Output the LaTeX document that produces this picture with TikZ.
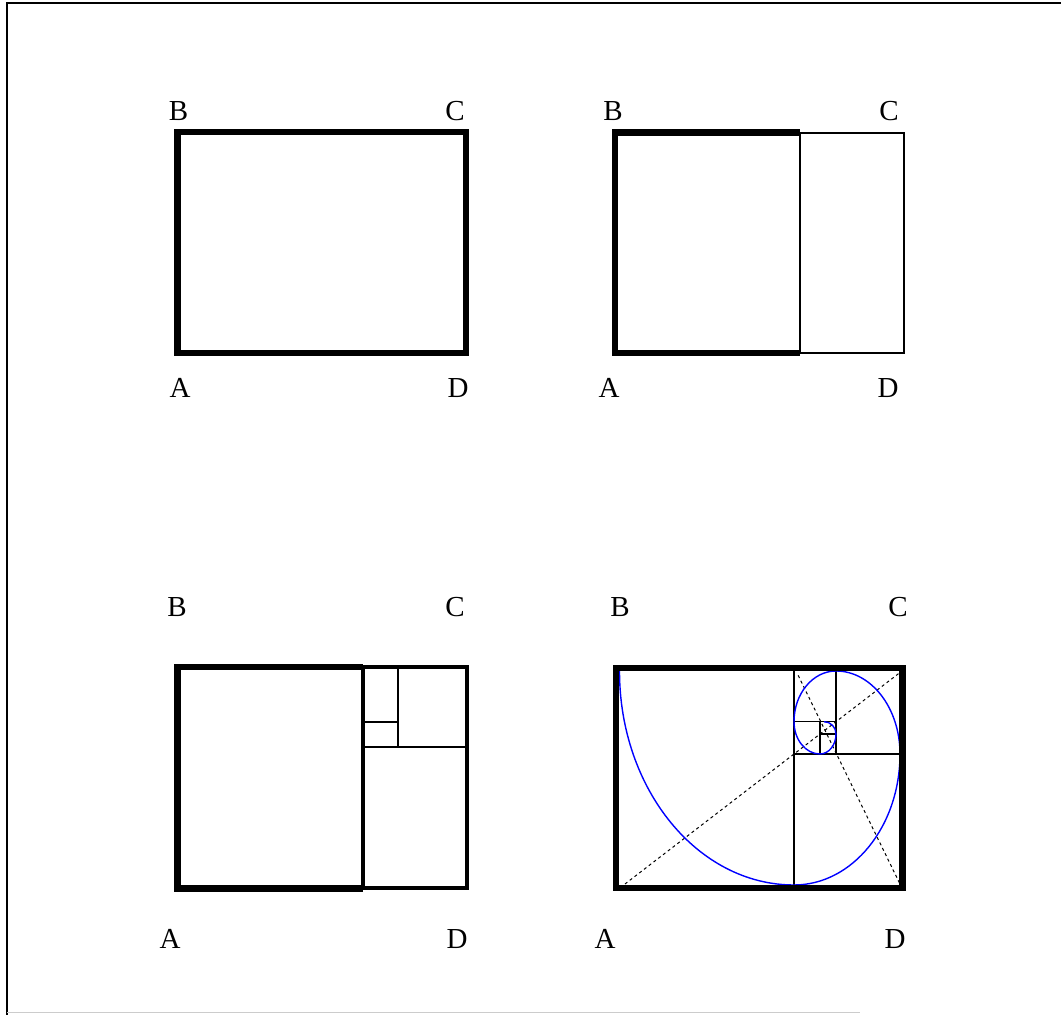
\documentclass[tikz,border=0pt]{standalone}
\usepackage{fontspec}
\setmainfont{Liberation Serif}

\begin{document}
\begin{tikzpicture}[x=1pt, y=1pt,
    heavy/.style={line width=6.5pt},
    medium/.style={line width=4pt},
    thin/.style={line width=1.8pt},
    fine/.style={line width=1.1pt},
    diag/.style={line width=1pt, dash pattern=on 3pt off 3pt},
    spiral/.style={blue, line width=1.4pt},
    lbl/.style={font=\fontsize{29}{29}\selectfont, inner sep=0pt}]
    \useasboundingbox (0,0) rectangle (1061,1015);

    % Outer frame
    \draw[line width=2pt] (7,0) -- (7,1011.5) -- (1061,1011.5);
    \draw[gray!40, line width=1pt] (7,2) -- (860,2);

    % Panel 1: the rectangle ABCD
    \draw[heavy] (177.5,662) rectangle (466,883);
    \node[lbl] (b1) at (178.5,904) {B};
    \node[lbl] (c1) at (455,904) {C};
    \node[lbl] (a1) at (180,627) {A};
    \node[lbl] (d1) at (458,627) {D};

    % Panel 2: square cut off
    \draw[thin] (800,662) rectangle (904,882);
    \draw[heavy] (800,882.5) -- (615,882.5) -- (615,662) -- (800,662);
    \node[lbl] (b2) at (613,904) {B};
    \node[lbl] (c2) at (889,904) {C};
    \node[lbl] (a2) at (609,627) {A};
    \node[lbl] (d2) at (888,627) {D};

    % Panel 3: repeated squares
    \draw[medium] (363,126.5) rectangle (467,348);
    \draw[heavy] (363,348) -- (177.5,348) -- (177.5,126.5) -- (363,126.5);
    \draw[thin] (363,126.5) -- (363,348);
    \draw[thin] (363,268.3) -- (467,268.3);
    \draw[thin] (398,268.3) -- (398,348);
    \draw[thin] (363,293.3) -- (398,293.3);
    \node[lbl] (b3) at (177,408) {B};
    \node[lbl] (c3) at (455,408) {C};
    \node[lbl] (a3) at (170,76) {A};
    \node[lbl] (d3) at (457,76) {D};

    % Panel 4: squares, diagonals and spiral
    \draw[fine] (794,127) -- (794,347);
    \draw[fine] (794,261) -- (902.5,261);
    \draw[fine] (836,261) -- (836,347);
    \draw[fine] (794,293.3) -- (836,293.3);
    \draw[fine] (820,261) -- (820,293.3);
    \draw[fine] (820,281) -- (836,281);
    \draw[diag] (625,131) -- (900,342.5);
    \draw[diag] (899.5,132) -- (797,342);
    \draw[spiral] (619.5,344)
        arc[start angle=180, end angle=270, x radius=174.5, y radius=214]
        arc[start angle=270, end angle=360, x radius=106, y radius=131]
        arc[start angle=0, end angle=90, x radius=64, y radius=83]
        arc[start angle=90, end angle=180, x radius=42, y radius=50.7]
        arc[start angle=180, end angle=270, x radius=26, y radius=32.3]
        arc[start angle=270, end angle=360, x radius=16, y radius=20]
        arc[start angle=0, end angle=90, x radius=12, y radius=12.3];
    \draw[heavy] (616,127) rectangle (902.5,347);
    \node[lbl] (b4) at (620,408) {B};
    \node[lbl] (c4) at (898,408) {C};
    \node[lbl] (a4) at (605,76) {A};
    \node[lbl] (d4) at (895,76) {D};
\end{tikzpicture}
\end{document}
